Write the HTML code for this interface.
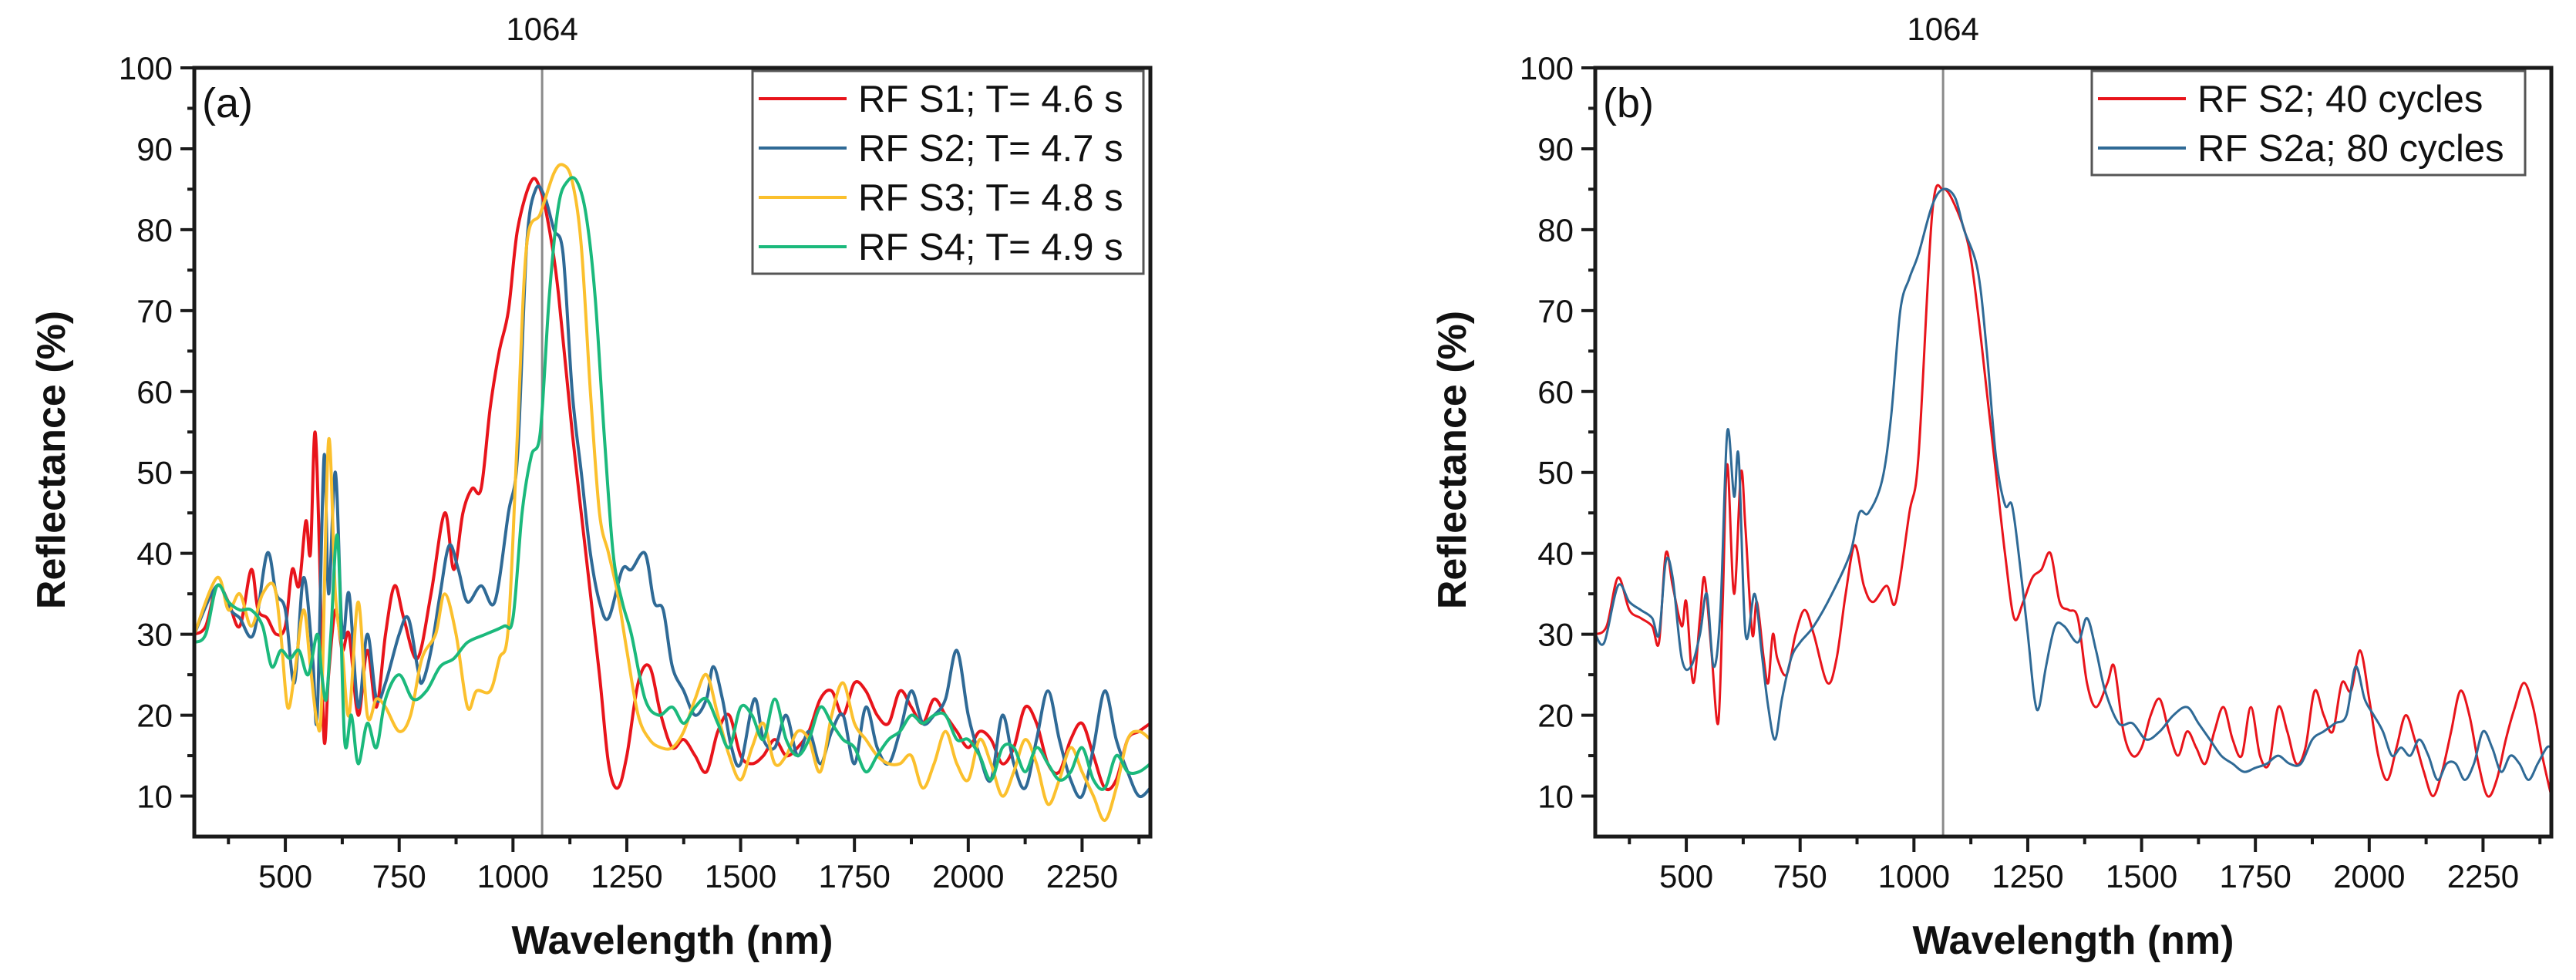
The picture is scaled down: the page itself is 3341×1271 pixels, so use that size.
<!DOCTYPE html>
<html><head><meta charset="utf-8"><style>
html,body{margin:0;padding:0;background:#fff}
svg{display:block}
text{font-family:"Liberation Sans",Arial,sans-serif;fill:#111}
</style></head><body>
<svg id="chart" width="3341" height="1271" viewBox="0 0 3341 1271" xmlns="http://www.w3.org/2000/svg"></svg>
<script>
// ---- data (wavelength nm, reflectance %) ----
const a_s1_x=[300,325,350,375,400,425,440,460,480,500,515,530,545,555,565,575,585,595,610,625,640,660,680,700,720,740,760,790,820,850,870,890,910,930,950,970,990,1010,1040,1060,1080,1100,1130,1160,1190,1210,1230,1250,1275,1300,1325,1350,1375,1400,1425,1450,1475,1500,1525,1550,1575,1600,1625,1650,1675,1700,1725,1750,1775,1800,1825,1850,1875,1900,1925,1950,1975,2000,2025,2050,2075,2100,2125,2150,2175,2200,2225,2250,2275,2300,2325,2350,2375,2400];
const a_s1_y=[30,31,36,34,31,38,33,32,30,31,38,36,44,40,55,40,17,25,33,28,30,20,28,21,30,36,32,27,35,45,38,45,48,48,58,65,70,80,86,85,80,72,55,40,25,14,11,15,24,26,20,16,17,15,13,18,20,15,14,15,17,15,16,18,22,23,20,24,23,20,19,23,21,19,22,20,18,16,18,17,14,16,21,19,14,13,17,19,15,11,12,17,18,19];
const a_s2_x=[300,350,380,400,430,460,480,500,520,540,560,570,585,595,610,625,640,660,680,700,720,750,770,790,800,820,840,860,880,900,930,960,990,1010,1030,1050,1070,1090,1110,1130,1150,1170,1190,1210,1240,1260,1290,1310,1330,1350,1375,1400,1425,1440,1460,1480,1500,1530,1550,1575,1600,1625,1650,1675,1700,1725,1750,1775,1800,1825,1850,1875,1900,1925,1950,1975,2000,2025,2050,2075,2100,2125,2150,2175,2200,2225,2250,2275,2300,2325,2350,2375,2400];
const a_s2_y=[30,36,33,32,30,40,35,33,24,37,27,20,52,35,50,30,35,21,30,22,24,30,32,26,24,28,35,41,38,34,36,34,45,52,78,85,84,80,77,60,50,40,34,32,38,38,40,34,33,26,23,20,22,26,22,16,14,22,17,16,20,15,18,14,18,20,14,21,16,14,18,23,19,20,22,28,20,15,12,20,14,11,17,23,17,12,10,16,23,17,13,10,11];
const a_s3_x=[300,350,375,400,425,450,475,490,505,520,540,555,570,580,595,610,625,640,660,680,700,720,750,775,800,830,850,875,900,920,950,970,990,1010,1030,1060,1090,1110,1130,1150,1170,1190,1210,1230,1250,1275,1300,1325,1350,1375,1400,1425,1450,1475,1500,1525,1550,1575,1600,1625,1650,1675,1700,1725,1750,1775,1800,1825,1850,1875,1900,1925,1950,1975,2000,2025,2050,2075,2100,2125,2150,2175,2200,2225,2250,2275,2300,2325,2350,2375,2400];
const a_s3_y=[30,37,33,35,31,35,36,30,21,25,33,26,19,22,54,35,28,20,34,20,22,21,18,20,27,30,35,30,21,23,23,27,31,55,78,82,87,88,86,78,60,45,40,35,28,20,17,16,16,18,22,25,20,15,12,16,19,14,15,18,17,13,20,24,19,17,15,14,14,15,11,14,18,14,12,17,14,10,13,17,14,9,12,16,13,10,7,11,17,18,17];
const a_s4_x=[300,325,350,375,400,425,450,470,490,510,530,550,570,580,590,600,615,630,645,660,680,700,720,750,780,810,840,870,900,940,980,1000,1020,1040,1060,1080,1100,1120,1140,1160,1180,1200,1220,1240,1260,1290,1320,1350,1375,1400,1425,1450,1475,1500,1525,1550,1575,1600,1625,1650,1675,1700,1725,1750,1775,1800,1825,1850,1875,1900,1925,1950,1975,2000,2025,2050,2075,2100,2125,2150,2175,2200,2225,2250,2275,2300,2325,2350,2375,2400];
const a_s4_y=[29,30,36,34,33,33,31,26,28,27,28,25,30,25,22,30,42,17,20,14,19,16,22,25,22,23,26,27,29,30,31,32,45,52,55,72,83,86,86,82,72,55,40,34,30,22,20,21,19,21,22,19,16,21,20,17,22,17,15,17,21,19,17,16,13,15,17,18,20,19,20,20,17,17,15,12,16,16,13,16,14,12,13,16,12,11,15,13,13,14];
const b_r_x=[300,325,350,375,400,425,440,455,470,490,500,515,530,540,555,570,580,590,605,620,630,645,655,670,680,690,700,720,740,760,780,810,830,850,870,890,910,940,960,990,1010,1040,1064,1090,1120,1140,1160,1180,1200,1220,1240,1260,1280,1300,1320,1340,1360,1380,1400,1425,1440,1460,1480,1500,1520,1540,1560,1580,1600,1620,1640,1660,1680,1700,1720,1740,1760,1780,1800,1820,1840,1860,1880,1900,1920,1940,1960,1980,2000,2020,2040,2060,2080,2100,2120,2140,2160,2180,2200,2220,2240,2260,2280,2300,2320,2340,2360,2380,2400];
const b_r_y=[30,31,37,33,32,31,29,40,36,31,34,24,32,37,28,19,34,51,35,50,43,30,34,27,24,30,27,25,30,33,30,24,27,35,41,36,34,36,34,45,52,82,85,83,78,70,60,50,40,32,34,37,38,40,34,33,32,24,21,24,26,18,15,16,20,22,18,15,18,16,14,18,21,17,15,21,15,14,21,18,14,16,23,20,18,24,23,28,22,15,12,16,20,17,13,10,13,18,23,20,14,10,12,17,21,24,21,15,10];
const b_b_x=[300,320,350,375,400,425,440,455,470,490,510,530,545,560,575,590,605,615,630,650,665,680,695,710,730,750,780,820,860,880,900,930,950,970,990,1010,1040,1064,1090,1110,1140,1160,1180,1200,1215,1230,1250,1265,1275,1290,1310,1330,1360,1380,1400,1420,1450,1480,1510,1540,1570,1600,1625,1650,1675,1700,1725,1750,1775,1800,1825,1850,1875,1900,1925,1950,1970,1990,2010,2030,2050,2070,2090,2110,2130,2150,2170,2190,2210,2230,2250,2270,2290,2310,2330,2350,2370,2390,2400];
const b_b_y=[30,29,36,34,33,32,30,39,37,27,26,30,35,26,33,55,47,52,30,35,28,21,17,22,27,29,31,35,40,45,45,49,57,70,74,77,83,85,84,80,75,65,52,46,46,40,30,22,21,26,31,31,29,32,28,23,19,19,17,18,20,21,19,17,15,14,13,13.5,14,15,14,14,17,18,19,20,26,22,20,18,15,16,15,17,15,12,14,14,12,14,18,16,13,15,14,12,14,16,16];
const xTicks=[500,750,1000,1250,1500,1750,2000,2250];
const yTicks=[10,20,30,40,50,60,70,80,90,100];
const legendA=["RF S1; T= 4.6 s","RF S2; T= 4.7 s","RF S3; T= 4.8 s","RF S4; T= 4.9 s"];
const legendB=["RF S2; 40 cycles","RF S2a; 80 cycles"];
const markerLine=1064;

const NS="http://www.w3.org/2000/svg";
const svg=document.getElementById('chart');
function mk(tag,attrs,parent){const e=document.createElementNS(NS,tag);for(const k in attrs)e.setAttribute(k,attrs[k]);(parent||svg).appendChild(e);return e;}
const XMIN=300,XMAX=2400,YMIN=5,YMAX=100;
function smoothPath(xs,ys,sx,sy){
  const p=xs.map((x,i)=>[sx(x),sy(ys[i])]);
  let d='M'+p[0][0].toFixed(1)+','+p[0][1].toFixed(1);
  for(let i=0;i<p.length-1;i++){
    const p0=p[Math.max(0,i-1)],p1=p[i],p2=p[i+1],p3=p[Math.min(p.length-1,i+2)];
    const c1x=p1[0]+(p2[0]-p0[0])/6,c1y=p1[1]+(p2[1]-p0[1])/6;
    const c2x=p2[0]-(p3[0]-p1[0])/6,c2y=p2[1]-(p3[1]-p1[1])/6;
    d+=' C'+c1x.toFixed(1)+','+c1y.toFixed(1)+' '+c2x.toFixed(1)+','+c2y.toFixed(1)+' '+p2[0].toFixed(1)+','+p2[1].toFixed(1);
  }
  return d;
}
function panel(L,R,T,B,id,series,legend,leg){
  const g=mk('g',{});
  
  
  const sx=v=>L+(v-XMIN)/(XMAX-XMIN)*(R-L);
  const sy=v=>B-(v-YMIN)/(YMAX-YMIN)*(B-T);
  const clipId='clip'+id;
  const cp=mk('clipPath',{id:clipId},g);mk('rect',{x:L,y:T,width:R-L,height:B-T},cp);
  const ml=mk('line',{x1:sx(markerLine),x2:sx(markerLine),y1:T,y2:B,stroke:'#8a8a8a','stroke-width':3},g);
  
  
  const mt=mk('text',{x:sx(markerLine),y:52,'font-size':42,'text-anchor':'middle'},g);mt.textContent=String(markerLine);
  
  
  const sg=mk('g',{'clip-path':'url(#'+clipId+')'},g);
  series.forEach(s=>{
    const p=mk('path',{d:smoothPath(s.x,s.y,sx,sy),fill:'none',stroke:s.c,'stroke-width':s.w,'stroke-linejoin':'round'},sg);
    
    
  });
  // frame
  const fr=mk('rect',{x:L,y:T,width:R-L,height:B-T,fill:'none',stroke:'#1a1a1a','stroke-width':5},g);
  
  
  // y ticks
  for(let v=10;v<=100;v+=5){
    const major=v%10===0;
    mk('line',{x1:L-(major?18:9),x2:L,y1:sy(v),y2:sy(v),stroke:'#1a1a1a','stroke-width':4},g);
  }
  yTicks.forEach(v=>{const t=mk('text',{x:L-28,y:sy(v)+15,'font-size':42,'text-anchor':'end'},g);t.textContent=v;
    
    });
  for(let v=375;v<XMAX;v+=125){
    const major=(v%250)===0;
    mk('line',{x1:sx(v),x2:sx(v),y1:B,y2:B+(major?20:10),stroke:'#1a1a1a','stroke-width':4},g);
  }
  xTicks.forEach(v=>{const t=mk('text',{x:sx(v),y:B+66,'font-size':42,'text-anchor':'middle'},g);t.textContent=v;
    
    });
  const xt=mk('text',{x:(L+R)/2,y:1237,'font-size':52,'font-weight':'bold','text-anchor':'middle'},g);xt.textContent='Wavelength (nm)';
  
  
  const yx=L-168,yy=(T+B)/2+10;
  const yt=mk('text',{x:yx,y:yy,'font-size':52,'font-weight':'bold','text-anchor':'middle',transform:'rotate(-90 '+yx+' '+yy+')'},g);yt.textContent='Reflectance (%)';
  
  
  const pl=mk('text',{x:L+10,y:T+64,'font-size':54},g);pl.textContent='('+id+')';
  
  
  // legend
  const lg=mk('g',{},g);
  
  
  mk('rect',{x:leg.x,y:leg.y,width:leg.w,height:leg.h,fill:'#fff',stroke:'#555','stroke-width':3},lg);
  legend.forEach((lab,i)=>{
    const cy=leg.y+36+i*leg.dy;
    const e=mk('g',{},lg);
    
    
    mk('line',{x1:leg.x+8,x2:leg.x+122,y1:cy,y2:cy,stroke:series[i].c,'stroke-width':4},e);
    const t=mk('text',{x:leg.x+137,y:cy+17,'font-size':leg.fs},e);t.textContent=lab;
  });
}
panel(252,1492,88,1085,'a',[
  {x:a_s1_x,y:a_s1_y,c:'#e8141b',w:4,name:'series-rf-s1'},
  {x:a_s2_x,y:a_s2_y,c:'#2f6a96',w:4,name:'series-rf-s2'},
  {x:a_s3_x,y:a_s3_y,c:'#fbc02d',w:4,name:'series-rf-s3'},
  {x:a_s4_x,y:a_s4_y,c:'#1bb97c',w:4,name:'series-rf-s4'}
],legendA,{x:976,y:92,w:507,h:263,dy:64,fs:49});
panel(2069,3309,88,1085,'b',[
  {x:b_r_x,y:b_r_y,c:'#e8141b',w:3,name:'series-rf-s2-40-cycles'},
  {x:b_b_x,y:b_b_y,c:'#2f6a96',w:3,name:'series-rf-s2a-80-cycles'}
],legendB,{x:2713,y:92,w:562,h:135,dy:64,fs:49});
</script>
</body></html>
